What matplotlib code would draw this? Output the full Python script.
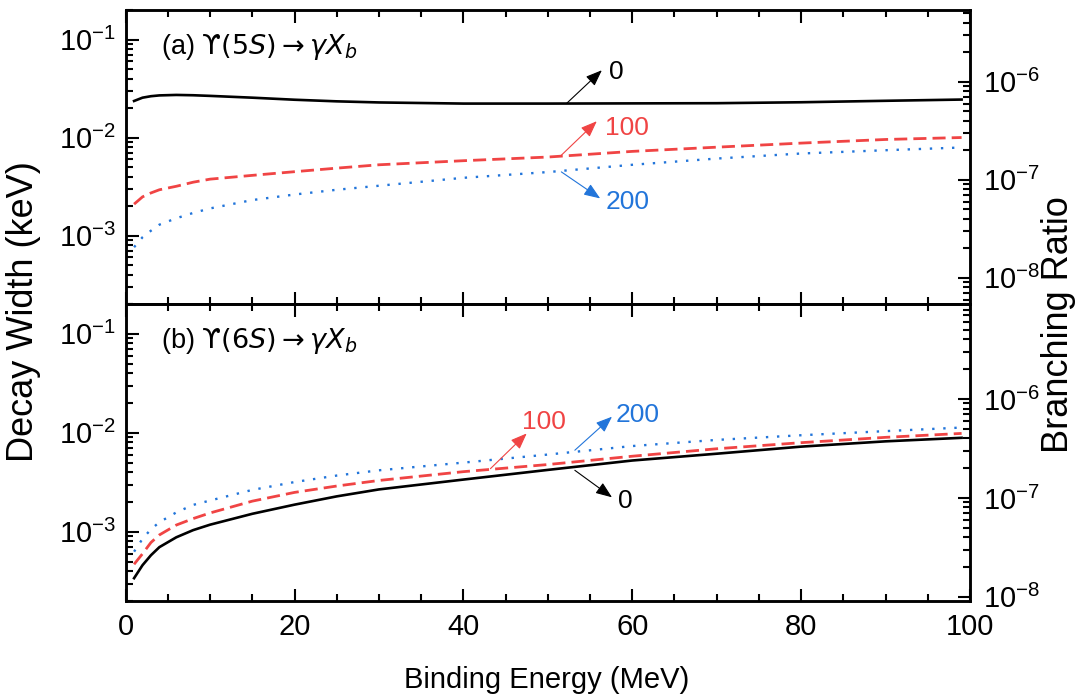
import matplotlib
matplotlib.use('Agg')
import matplotlib.pyplot as plt
from matplotlib.ticker import LogFormatterMathtext, NullFormatter, MultipleLocator, LogLocator

plt.rcParams['font.family'] = ['Liberation Sans', 'DejaVu Sans']
plt.rcParams['mathtext.fontset'] = 'custom'
plt.rcParams['mathtext.rm'] = 'Liberation Sans'
plt.rcParams['mathtext.it'] = 'Liberation Sans:italic'
plt.rcParams['mathtext.fallback'] = 'stix'

# binding energy grid (MeV)
energy = [1, 2, 3, 4, 6, 8, 10, 15, 20, 25, 30, 40, 50, 60, 70, 80, 90, 99]

# (a) Upsilon(5S) -> gamma X_b, decay width in keV, for cutoff 0 / 100 / 200
ups5_w0 = [0.0236, 0.0255, 0.0264, 0.0269, 0.0272, 0.0270, 0.0266, 0.0255, 0.0243,
           0.0234, 0.0228, 0.0222, 0.0222, 0.0223, 0.0224, 0.0229, 0.0237, 0.0244]
ups5_w100 = [0.00209, 0.00248, 0.00272, 0.00293, 0.00318, 0.00350, 0.00376, 0.00411, 0.00448,
             0.00487, 0.00527, 0.00580, 0.00632, 0.00722, 0.00797, 0.00877, 0.00955, 0.0100]
ups5_w200 = [0.00076, 0.00096, 0.00112, 0.00129, 0.00150, 0.00170, 0.00189, 0.00230, 0.00262,
             0.00293, 0.00322, 0.00388, 0.00444, 0.00527, 0.00610, 0.00687, 0.00742, 0.00791]

# (b) Upsilon(6S) -> gamma X_b
ups6_w0 = [0.00034, 0.00046, 0.00058, 0.00070, 0.00088, 0.00104, 0.00118, 0.00152, 0.00188,
           0.00228, 0.00268, 0.00337, 0.00422, 0.00525, 0.00615, 0.00725, 0.00820, 0.00890]
ups6_w100 = [0.00047, 0.00060, 0.00078, 0.00093, 0.00117, 0.00136, 0.00155, 0.00204, 0.00250,
             0.00290, 0.00330, 0.00405, 0.00478, 0.00580, 0.00690, 0.00795, 0.00900, 0.00986]
ups6_w200 = [0.00063, 0.00085, 0.00106, 0.00125, 0.00157, 0.00187, 0.00207, 0.00265, 0.00318,
             0.00370, 0.00418, 0.00500, 0.00603, 0.00735, 0.00848, 0.00945, 0.01040, 0.01130]

# total widths (keV) used for the branching ratio axis
total_5s = 3.7e4
total_6s = 2.2e4

cut_labels = ['0', '100', '200']
colors = ['black', '#f04444', '#2275da']

# arrow labels: (tail E, tail width, head E, head width, text E, text width)
arrows_a = [(52.2, 0.0222, 56.4, 0.0486, 57.3, 0.0467),
            (51.6, 0.0066, 55.8, 0.01467, 56.8, 0.01254),
            (51.6, 0.00446, 56.2, 0.00239, 56.8, 0.0022)]
arrows_b = [(53.2, 0.00418, 57.6, 0.00223, 58.3, 0.00207),
            (43.2, 0.00434, 47.5, 0.00986, 46.9, 0.01294),
            (53.2, 0.00667, 57.6, 0.01455, 58.0, 0.0151)]

fig = plt.figure(figsize=(10.83, 6.96), dpi=100)
left, right = 0.116, 0.8957
ax_a = fig.add_axes([left, 0.5632, right - left, 0.9856 - 0.5632])
ax_b = fig.add_axes([left, 0.1365, right - left, 0.5632 - 0.1365], sharex=ax_a)

panels = [
    (ax_a, [ups5_w0, ups5_w100, ups5_w200], total_5s, arrows_a,
     r'(a) $\mathrm{ϒ(5}S\mathrm{)}\rightarrow\gamma X_b$'),
    (ax_b, [ups6_w0, ups6_w100, ups6_w200], total_6s, arrows_b,
     r'(b) $\mathrm{ϒ(6}S\mathrm{)}\rightarrow\gamma X_b$'),
]

styles = [dict(ls='-', lw=1.9),
          dict(ls=(0, (4.7, 2.2)), lw=2.0),
          dict(ls=(0, (1, 3.7)), lw=1.7)]

for ax, series, total, arrows, title in panels:
    for vals, c, st in zip(series, colors, styles):
        ax.plot(energy, vals, color=c, **st)
    ax.set_yscale('log')
    ax.set_ylim(2e-4, 0.2)
    ax.set_xlim(0, 100)
    ax.xaxis.set_major_locator(MultipleLocator(20))
    ax.xaxis.set_minor_locator(MultipleLocator(5))
    ax.yaxis.set_major_formatter(LogFormatterMathtext())
    ax.yaxis.set_minor_formatter(NullFormatter())
    ax.tick_params(which='both', direction='in', top=True, right=False, width=1.5,
                   labelsize=21)
    ax.tick_params(which='major', length=9, pad=7)
    ax.tick_params(which='minor', length=5)
    ax.tick_params(axis='x', pad=9)
    for sp in ax.spines.values():
        sp.set_linewidth(1.8)

    ax2 = ax.twinx()
    ax2.set_yscale('log')
    lo, hi = ax.get_ylim()
    ax2.set_ylim(lo / total, hi / total)
    ax2.yaxis.set_major_locator(LogLocator(base=10))
    ax2.yaxis.set_minor_locator(LogLocator(base=10, subs=range(2, 10)))
    ax2.yaxis.set_major_formatter(LogFormatterMathtext())
    ax2.yaxis.set_minor_formatter(NullFormatter())
    ax2.tick_params(which='both', direction='in', width=1.5, labelsize=21)
    ax2.tick_params(which='major', length=9, pad=9)
    ax2.tick_params(which='minor', length=5)
    for sp in ax2.spines.values():
        sp.set_linewidth(1.8)

    for (te, tv, he, hv, xe, xv), lab, c in zip(arrows, cut_labels, colors):
        ax.annotate('', xy=(he, hv), xytext=(te, tv),
                    arrowprops=dict(arrowstyle='-|>,head_length=0.9,head_width=0.35',
                                    color=c, lw=0.8, shrinkA=0, shrinkB=0,
                                    mutation_scale=11))
        ax.text(xe, xv, lab, color=c, fontsize=19, ha='left', va='center')

    ax.text(0.042, 0.875, title, transform=ax.transAxes, fontsize=19.5,
            ha='left', va='center', math_fontfamily='dejavusans')

ax_a.tick_params(axis='x', labelbottom=False)

fig.text(24 / 1083, 1 - 312 / 696, 'Decay Width (keV)', rotation=90,
         ha='center', va='center', fontsize=26)
fig.text(1059 / 1083, 1 - 325 / 696, 'Branching Ratio', rotation=90,
         ha='center', va='center', fontsize=26)
fig.text(547 / 1083, 1 - 680 / 696, 'Binding Energy (MeV)',
         ha='center', va='center', fontsize=21)

fig.savefig('out.png', dpi=100)
